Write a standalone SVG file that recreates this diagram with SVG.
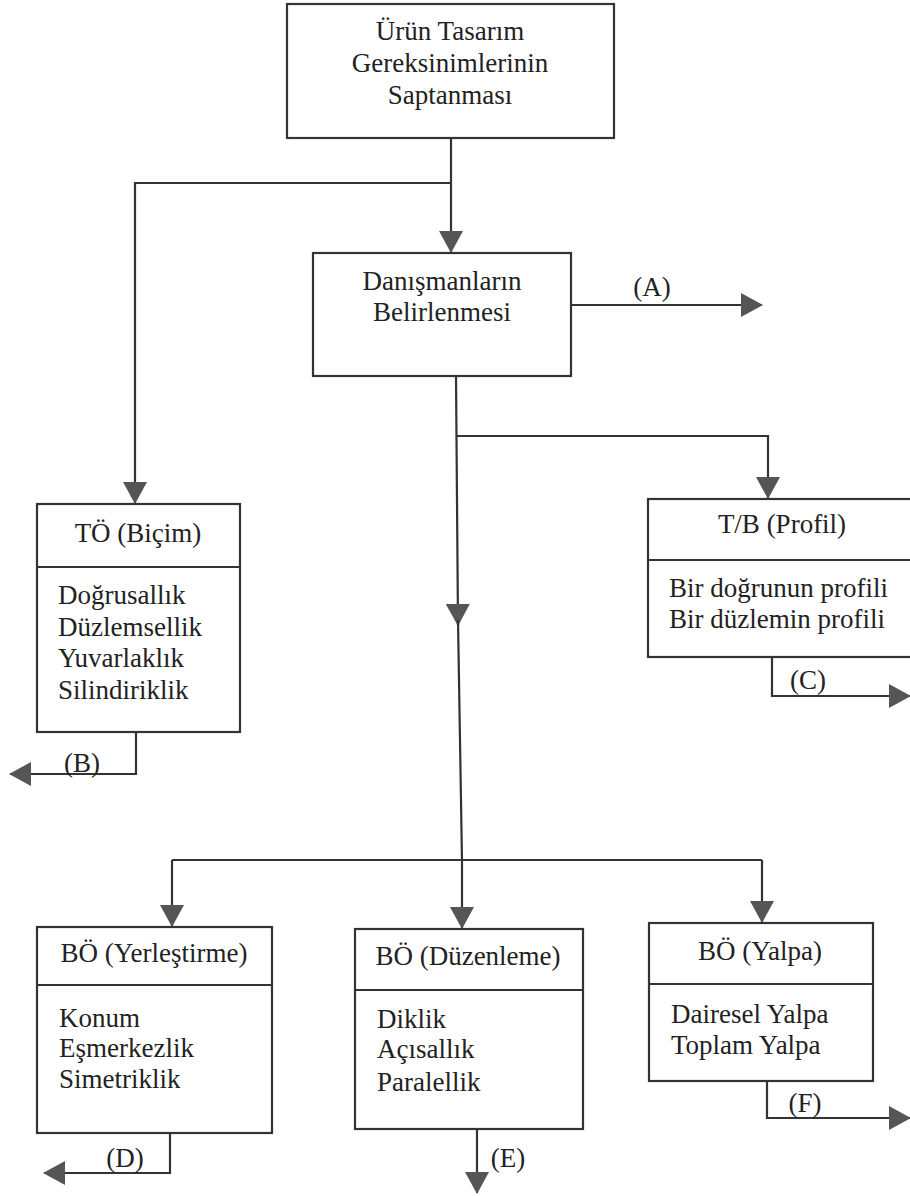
<svg xmlns="http://www.w3.org/2000/svg" width="910" height="1196" viewBox="0 0 910 1196">
<style>
.box{fill:#fff;stroke:#333;stroke-width:2.2}
.div{stroke:#333;stroke-width:2.2}
text{font-family:'Liberation Serif','Times New Roman',Times,serif;font-size:27px;fill:#222}
.c{text-anchor:middle}
.ln{fill:none;stroke:#333;stroke-width:2.2}
</style>
<defs>
<marker id="ah" markerUnits="userSpaceOnUse" markerWidth="22" markerHeight="24" viewBox="0 0 22 24" refX="21" refY="12" orient="auto">
<path d="M0 0 L22 12 L0 24 Z" fill="#555"/>
</marker>
</defs>
<rect width="910" height="1196" fill="#fff"/>
<g id="connectors">
<path class="ln" d="M451 138 V252" marker-end="url(#ah)"/>
<path class="ln" d="M451 183 H135 V503" marker-end="url(#ah)"/>
<path class="ln" d="M571 305 H762" marker-end="url(#ah)"/>
<path class="ln" d="M456 376 L458 625" marker-end="url(#ah)"/>
<path class="ln" d="M458 620 L462 861"/>
<path class="ln" d="M456 436 H768 V498" marker-end="url(#ah)"/>
<path class="ln" d="M772 657 V696 H910" marker-end="url(#ah)"/>
<path class="ln" d="M136 732 V774 H10" marker-end="url(#ah)"/>
<path class="ln" d="M172 860 H762"/>
<path class="ln" d="M172 860 V926" marker-end="url(#ah)"/>
<path class="ln" d="M462 860 V928" marker-end="url(#ah)"/>
<path class="ln" d="M762 860 V922" marker-end="url(#ah)"/>
<path class="ln" d="M170 1133 V1173 H44" marker-end="url(#ah)"/>
<path class="ln" d="M477 1129 V1193" marker-end="url(#ah)"/>
<path class="ln" d="M767 1081 V1118 H910" marker-end="url(#ah)"/>
<text class="c" x="652" y="296">(A)</text>
<text class="c" x="82" y="772">(B)</text>
<text class="c" x="808" y="689">(C)</text>
<text class="c" x="125" y="1167">(D)</text>
<text class="c" x="508" y="1167">(E)</text>
<text class="c" x="805" y="1112">(F)</text>
</g>
<g id="urun">
<rect class="box" x="287" y="4" width="327" height="134"/>
<text class="c" x="450" y="40">Ürün Tasarım</text>
<text class="c" x="450" y="72">Gereksinimlerinin</text>
<text class="c" x="450" y="104">Saptanması</text>
</g>
<g id="danisman">
<rect class="box" x="313" y="253" width="258" height="123"/>
<text class="c" x="442" y="290">Danışmanların</text>
<text class="c" x="442" y="321">Belirlenmesi</text>
</g>
<g id="to-bicim">
<rect class="box" x="37" y="504" width="203" height="228"/>
<line class="div" x1="37" y1="567" x2="240" y2="567"/>
<text class="c" x="138" y="542">TÖ (Biçim)</text>
<text x="58" y="604">Doğrusallık</text>
<text x="58" y="636">Düzlemsellik</text>
<text x="58" y="667">Yuvarlaklık</text>
<text x="58" y="699">Silindiriklik</text>
</g>
<g id="tb-profil">
<rect class="box" x="648" y="499" width="270" height="158"/>
<line class="div" x1="648" y1="560" x2="918" y2="560"/>
<text class="c" x="782" y="533">T/B (Profil)</text>
<text x="669" y="597">Bir doğrunun profili</text>
<text x="669" y="628">Bir düzlemin profili</text>
</g>
<g id="bo-yerlestirme">
<rect class="box" x="37" y="927" width="235" height="206"/>
<line class="div" x1="37" y1="985" x2="272" y2="985"/>
<text class="c" x="154" y="962">BÖ (Yerleştirme)</text>
<text x="59" y="1027">Konum</text>
<text x="59" y="1057">Eşmerkezlik</text>
<text x="59" y="1088">Simetriklik</text>
</g>
<g id="bo-duzenleme">
<rect class="box" x="355" y="929" width="228" height="200"/>
<line class="div" x1="355" y1="990" x2="583" y2="990"/>
<text class="c" x="468" y="965">BÖ (Düzenleme)</text>
<text x="377" y="1028">Diklik</text>
<text x="377" y="1058">Açısallık</text>
<text x="377" y="1091">Paralellik</text>
</g>
<g id="bo-yalpa">
<rect class="box" x="649" y="923" width="224" height="158"/>
<line class="div" x1="649" y1="984" x2="873" y2="984"/>
<text class="c" x="760" y="960">BÖ (Yalpa)</text>
<text x="671" y="1023">Dairesel Yalpa</text>
<text x="671" y="1054">Toplam Yalpa</text>
</g>
</svg>
